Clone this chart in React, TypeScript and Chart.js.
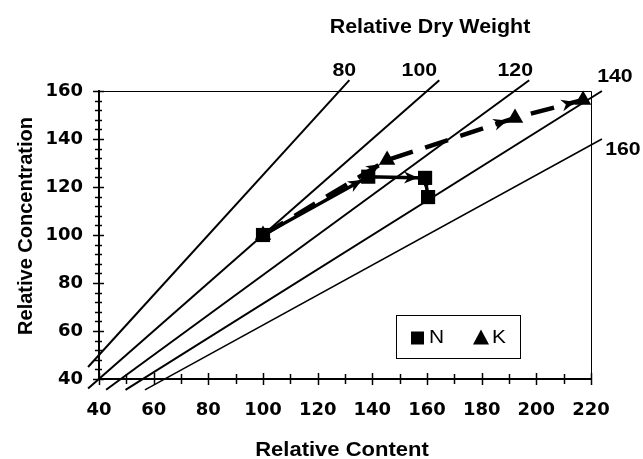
import React, { useEffect, useRef } from "react";
import { Chart, registerables } from "chart.js";

Chart.register(...registerables);

// ---- axis ranges / ticks ----
const X_MIN = 40;
const X_MAX = 220;
const X_STEP = 20;
const X_MINOR = 10;
const Y_MIN = 40;
const Y_MAX = 160;
const Y_STEP = 20;
const Y_MINOR = 4;

// ---- data ----
const dryWeightLevels = [80, 100, 120, 140, 160];
const nContent = [100, 138.5, 159.3, 160.4];
const nConcentration = [100, 124.3, 123.8, 115.8];
const kContent = [100, 145.4, 192.2, 217.1];
const kConcentration = [100, 131.2, 148.8, 156.3];

const seriesNames = ["N", "K"];
const xTitle = "Relative Content";
const yTitle = "Relative Concentration";
const topTitle = "Relative Dry Weight";

const TICK_FONT = '"DejaVu Sans", sans-serif';
const TEXT_FONT = '"Liberation Sans", Arial, sans-serif';

// isoline: concentration = content * 100 / dryWeight, extended a little past the frame
function isoLine(dw: number) {
  const k = 100 / dw;
  const xLo = X_MIN - 4;
  const xHi = X_MAX + 4;
  const yLo = Y_MIN - 4.5;
  const yHi = Y_MAX + 4.5;
  const x0 = Math.max(xLo, yLo / k);
  const x1 = Math.min(xHi, yHi / k);
  return [
    { x: x0, y: k * x0 },
    { x: x1, y: k * x1 },
  ];
}

// pixel offsets of iso-line labels from the line's upper end
const labelOffsets: Record<number, [number, number]> = {
  80: [-5, -9],
  100: [-20, -9],
  120: [-14, -9],
  140: [13, -14],
  160: [21, 11],
};

function stretchedText(
  ctx: CanvasRenderingContext2D,
  text: string,
  cx: number,
  cy: number,
  font: string,
  sx: number,
  rot = 0
) {
  ctx.save();
  ctx.translate(cx, cy);
  if (rot) ctx.rotate(rot);
  ctx.scale(sx, 1);
  ctx.font = font;
  ctx.fillStyle = "#000";
  ctx.textAlign = "center";
  ctx.textBaseline = "middle";
  ctx.fillText(text, 0, 0);
  ctx.restore();
}

function arrowHead(
  ctx: CanvasRenderingContext2D,
  x0: number,
  y0: number,
  x1: number,
  y1: number,
  back: number
) {
  const dx = x1 - x0;
  const dy = y1 - y0;
  const L = Math.hypot(dx, dy);
  if (L < 1) return;
  const ux = dx / L;
  const uy = dy / L;
  const tx = x1 - ux * back;
  const ty = y1 - uy * back;
  const len = 14;
  const hw = 6;
  ctx.beginPath();
  ctx.moveTo(tx, ty);
  ctx.lineTo(tx - ux * len - uy * hw, ty - uy * len + ux * hw);
  ctx.lineTo(tx - ux * len * 0.7, ty - uy * len * 0.7);
  ctx.lineTo(tx - ux * len + uy * hw, ty - uy * len - ux * hw);
  ctx.closePath();
  ctx.fill();
}

const overlay = {
  id: "overlay",
  afterDatasetsDraw(chart: any) {
    const ctx: CanvasRenderingContext2D = chart.ctx;
    ctx.save();
    ctx.fillStyle = "#000";
    [0, 1].forEach((di) => {
      const pts = chart.getDatasetMeta(di).data;
      for (let i = 1; i < pts.length; i++) {
        arrowHead(ctx, pts[i - 1].x, pts[i - 1].y, pts[i].x, pts[i].y, di === 0 ? 7 : 8);
      }
    });
    ctx.restore();
  },
  afterDraw(chart: any) {
    const ctx: CanvasRenderingContext2D = chart.ctx;
    const ca = chart.chartArea;
    const xs = chart.scales.x;
    const ys = chart.scales.y;
    ctx.save();
    ctx.strokeStyle = "#000";
    // frame top & right
    ctx.lineWidth = 1;
    ctx.beginPath();
    ctx.moveTo(ca.left, Math.round(ca.top) + 0.5);
    ctx.lineTo(Math.round(ca.right) + 0.5, Math.round(ca.top) + 0.5);
    ctx.lineTo(Math.round(ca.right) + 0.5, ca.bottom);
    ctx.stroke();

    // x tick marks
    ctx.lineWidth = 1.5;
    for (let v = X_MIN; v <= X_MAX + 1e-6; v += X_MINOR) {
      const px = Math.round(xs.getPixelForValue(v)) + 0.5;
      const major = Math.abs((v - X_MIN) % X_STEP) < 1e-6;
      const up = major ? 6 : 5;
      const dn = major ? 6 : 5;
      ctx.beginPath();
      ctx.moveTo(px, ca.bottom - up);
      ctx.lineTo(px, ca.bottom + dn);
      ctx.stroke();
    }
    // y tick marks
    for (let v = Y_MIN; v <= Y_MAX + 1e-6; v += Y_MINOR) {
      const py = Math.round(ys.getPixelForValue(v)) + 0.5;
      const major = Math.abs((v - Y_MIN) % Y_STEP) < 1e-6;
      const l = major ? 6 : 4;
      const r = major ? 5 : 3;
      ctx.beginPath();
      ctx.moveTo(ca.left - l, py);
      ctx.lineTo(ca.left + r, py);
      ctx.stroke();
    }

    // iso-line labels
    dryWeightLevels.forEach((dw, i) => {
      const pts = chart.getDatasetMeta(2 + i).data;
      const end = pts[pts.length - 1];
      const off = labelOffsets[dw] || [0, -10];
      stretchedText(ctx, String(dw), end.x + off[0], end.y + off[1], `bold 19px ${TEXT_FONT}`, 1.12);
    });

    // titles
    stretchedText(ctx, topTitle, 430, 27, `bold 20px ${TEXT_FONT}`, 1.07);
    stretchedText(ctx, xTitle, 342, 450, `bold 20px ${TEXT_FONT}`, 1.1);
    stretchedText(ctx, yTitle, 26, 226, `bold 20px ${TEXT_FONT}`, 1.0, -Math.PI / 2);

    // legend
    const lx = 396;
    const ly = 315;
    const lw = 124;
    const lh = 43;
    ctx.fillStyle = "#fff";
    ctx.fillRect(lx, ly, lw, lh);
    ctx.lineWidth = 1;
    ctx.strokeStyle = "#000";
    ctx.strokeRect(lx + 0.5, ly + 0.5, lw, lh);
    ctx.fillStyle = "#000";
    const cy = ly + lh / 2 + 1;
    ctx.fillRect(411, cy - 6, 13, 13);
    ctx.beginPath();
    ctx.moveTo(481, cy - 8);
    ctx.lineTo(489, cy + 7);
    ctx.lineTo(473, cy + 7);
    ctx.closePath();
    ctx.fill();
    [
      [seriesNames[0], 429],
      [seriesNames[1], 492],
    ].forEach(([t, x]) => {
      ctx.save();
      ctx.font = `19px ${TEXT_FONT}`;
      ctx.textAlign = "left";
      ctx.textBaseline = "middle";
      ctx.translate(x as number, cy);
      ctx.scale(1.1, 1);
      ctx.fillText(t as string, 0, 0);
      ctx.restore();
    });

    ctx.restore();
  },
};

export default function App() {
  const ref = useRef<HTMLCanvasElement>(null);
  useEffect(() => {
    const canvas = ref.current;
    if (!canvas) return;
    const chart = new Chart(canvas, {
      type: "scatter",
      data: {
        datasets: [
          {
            label: seriesNames[0],
            data: nContent.map((x, i) => ({ x, y: nConcentration[i] })),
            showLine: true,
            borderColor: "#000",
            backgroundColor: "#000",
            borderWidth: 3.5,
            pointStyle: "rect",
            pointRadius: 10,
            pointBorderWidth: 0,
            clip: false,
            order: 0,
          },
          {
            label: seriesNames[1],
            data: kContent.map((x, i) => ({ x, y: kConcentration[i] })),
            showLine: true,
            borderColor: "#000",
            backgroundColor: "#000",
            borderWidth: 4.5,
            borderDash: [24, 13],
            pointStyle: "triangle",
            pointRadius: 9.5,
            pointBorderWidth: 0,
            clip: false,
            order: 1,
          },
          ...dryWeightLevels.map((dw) => ({
            label: `DW ${dw}`,
            data: isoLine(dw),
            showLine: true,
            borderColor: "#000",
            backgroundColor: "#000",
            borderWidth: dw === 160 ? 1.5 : 2,
            pointRadius: 0,
            clip: false as any,
            order: 5,
          })),
        ],
      },
      options: {
        animation: false,
        responsive: true,
        maintainAspectRatio: false,
        events: [],
        layout: { padding: { left: 0, top: 91, right: 52, bottom: 0 } },
        plugins: {
          legend: { display: false },
          tooltip: { enabled: false },
        },
        scales: {
          x: {
            type: "linear",
            min: X_MIN,
            max: X_MAX,
            ticks: {
              stepSize: X_STEP,
              autoSkip: false,
              maxRotation: 0,
              color: "#000",
              padding: 21,
              font: { family: TICK_FONT, size: 18, weight: "bold" },
            },
            grid: { display: false, drawTicks: false },
            border: { display: true, color: "#000", width: 2 },
            afterFit: (s: any) => {
              s.height = 80;
            },
          },
          y: {
            type: "linear",
            min: Y_MIN,
            max: Y_MAX,
            ticks: {
              stepSize: Y_STEP,
              autoSkip: false,
              color: "#000",
              padding: 16,
              font: { family: TICK_FONT, size: 18, weight: "bold" },
            },
            grid: { display: false, drawTicks: false },
            border: { display: true, color: "#000", width: 2 },
            afterFit: (s: any) => {
              s.width = 99;
            },
          },
        },
      },
      plugins: [overlay],
    } as any);
    return () => chart.destroy();
  }, []);
  return (
    <div
      style={{
        position: "fixed",
        left: 0,
        top: 0,
        width: 643,
        height: 459,
        background: "#fff",
      }}
    >
      <canvas ref={ref} />
    </div>
  );
}
